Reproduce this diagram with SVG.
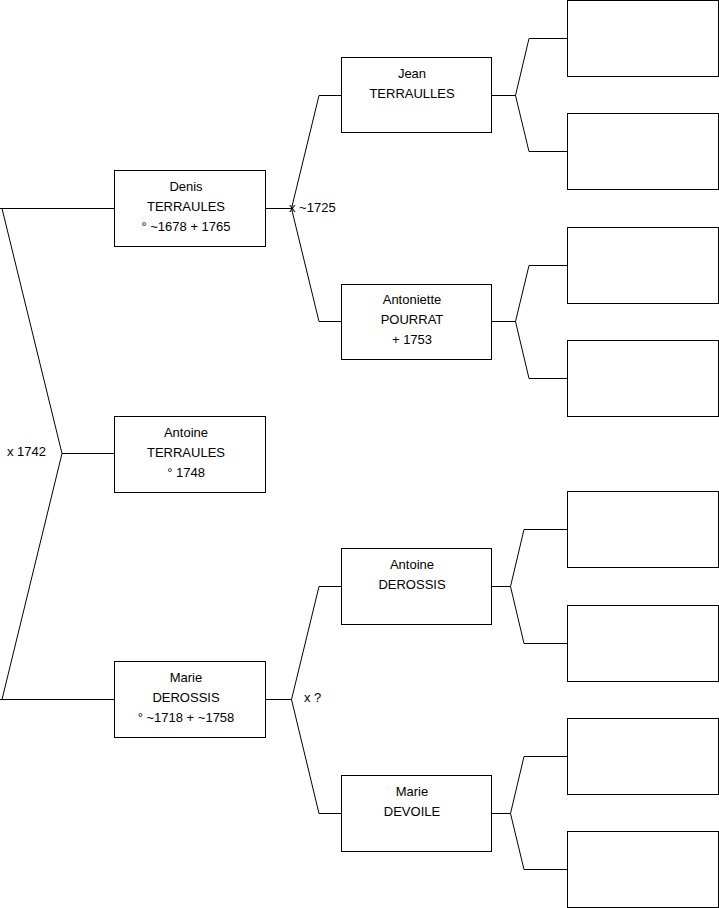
<svg xmlns="http://www.w3.org/2000/svg" width="719" height="908" viewBox="0 0 719 908">
<style>
.box{fill:#ffffff;stroke:#000000;stroke-width:1}
.ln{fill:none;stroke:#000000;stroke-width:1}
text{font-family:"Liberation Sans",Arial,sans-serif;font-size:13px;fill:#000000}
.c{text-anchor:middle}
</style>
<rect width="719" height="908" fill="#ffffff"/>
<g id="connectors">
<path class="ln" d="M0,208.5 H114.5 M2,208.5 L62,453.5 L2,699.5 M0,699.5 H114.5 M62,453.5 H114.5"/>
<path class="ln" d="M265.5,208.5 H291.5 M319,95.5 L291.5,208.5 L319,321.5 M319,95.5 H341.5 M319,321.5 H341.5"/>
<path class="ln" d="M265.5,699.5 H291.5 M319,586.5 L291.5,699.5 L319,813.5 M319,586.5 H341.5 M319,813.5 H341.5"/>
<path class="ln" d="M491.5,95.5 H515.5 M529,38.5 L515.5,95.5 L529,151.5 M529,38.5 H567.5 M529,151.5 H567.5"/>
<path class="ln" d="M491.5,321.5 H515.5 M529,265.5 L515.5,321.5 L529,378.5 M529,265.5 H567.5 M529,378.5 H567.5"/>
<path class="ln" d="M491.5,586.5 H510.5 M524,529.5 L510.5,586.5 L524,643.5 M524,529.5 H567.5 M524,643.5 H567.5"/>
<path class="ln" d="M491.5,813.5 H510.5 M524,756.5 L510.5,813.5 L524,869.5 M524,756.5 H567.5 M524,869.5 H567.5"/>
<text x="7" y="456">x 1742</text>
<text x="289" y="212">x ~1725</text>
<text x="304" y="702">x ?</text>
</g>
<g id="denis"><rect class="box" x="114.5" y="170.5" width="151" height="76"/>
<text class="c" x="186" y="191">Denis</text><text class="c" x="186" y="211">TERRAULES</text><text class="c" x="186" y="231">° ~1678 + 1765</text></g>
<g id="antoine-terraules"><rect class="box" x="114.5" y="416.5" width="151" height="76"/>
<text class="c" x="186" y="437">Antoine</text><text class="c" x="186" y="457">TERRAULES</text><text class="c" x="186" y="477">° 1748</text></g>
<g id="marie-derossis"><rect class="box" x="114.5" y="661.5" width="151" height="76"/>
<text class="c" x="186" y="682">Marie</text><text class="c" x="186" y="702">DEROSSIS</text><text class="c" x="186" y="722">° ~1718 + ~1758</text></g>
<g id="jean"><rect class="box" x="341.5" y="57.5" width="150" height="75"/>
<text class="c" x="412" y="78">Jean</text><text class="c" x="412" y="98">TERRAULLES</text></g>
<g id="antoniette"><rect class="box" x="341.5" y="284.5" width="150" height="75"/>
<text class="c" x="412" y="304">Antoniette</text><text class="c" x="412" y="324">POURRAT</text><text class="c" x="412" y="344">+ 1753</text></g>
<g id="antoine-derossis"><rect class="box" x="341.5" y="548.5" width="150" height="76"/>
<text class="c" x="412" y="569">Antoine</text><text class="c" x="412" y="589">DEROSSIS</text></g>
<g id="marie-devoile"><rect class="box" x="341.5" y="775.5" width="150" height="76"/>
<text class="c" x="412" y="796">Marie</text><text class="c" x="412" y="816">DEVOILE</text></g>
<g id="e1"><rect class="box" x="567.5" y="0.5" width="151" height="76"/></g>
<g id="e2"><rect class="box" x="567.5" y="113.5" width="151" height="76"/></g>
<g id="e3"><rect class="box" x="567.5" y="227.5" width="151" height="76"/></g>
<g id="e4"><rect class="box" x="567.5" y="340.5" width="151" height="76"/></g>
<g id="e5"><rect class="box" x="567.5" y="491.5" width="151" height="76"/></g>
<g id="e6"><rect class="box" x="567.5" y="605.5" width="151" height="76"/></g>
<g id="e7"><rect class="box" x="567.5" y="718.5" width="151" height="76"/></g>
<g id="e8"><rect class="box" x="567.5" y="831.5" width="151" height="76"/></g>
</svg>
